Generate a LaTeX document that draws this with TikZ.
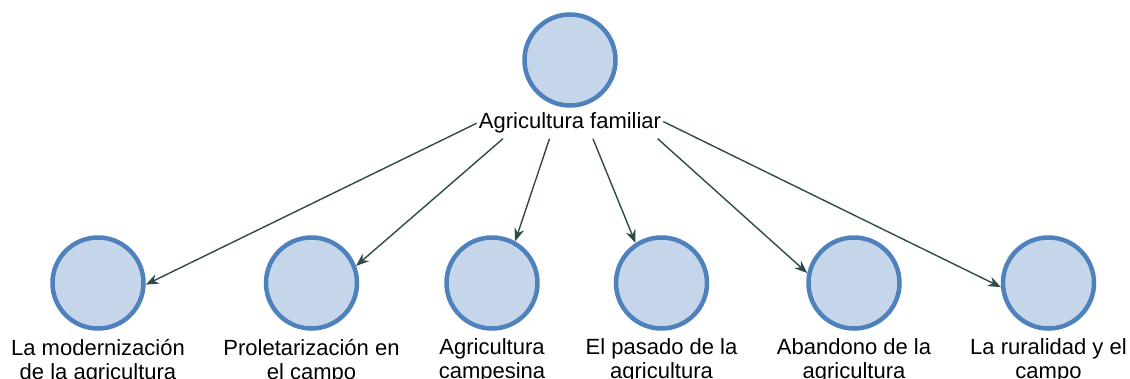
\documentclass[tikz,border=0pt]{standalone}
\usepackage{fontspec}
\setmainfont{Liberation Sans}
\usetikzlibrary{
  arrows.meta,
  positioning
}
\definecolor{agriblue}{HTML}{4F81BD}
\definecolor{agrifill}{HTML}{C6D6EA}
\definecolor{agriteal}{HTML}{2E4B47}

\begin{document}
\begin{tikzpicture}[
      x=1pt, y=-1pt,
      topic/.style={
        circle, minimum size=91pt, inner sep=0pt,
        draw=agriblue, line width=4.5pt, fill=agrifill
      },
      arrow/.style={-{Stealth[length=13pt, width=10pt]}, line width=1.4pt, agriteal},
      caption/.style={font=\fontsize{22}{24}\selectfont, align=center, inner sep=0pt},
      title/.style={font=\fontsize{22}{24}\selectfont, inner xsep=2pt, inner ysep=5pt}
    ]
      \useasboundingbox (0,0) rectangle (1130,378);

      % Central topic
      \node[topic] (root) at (570,60) {};
      \node[title, below=0pt of root] (rootlbl) {Agricultura familiar};

      % Subtopics
      \node[topic] (c1) at (98,283) {};
      \node[topic, right=118pt of c1] (c2) {};
      \node[topic, right=85pt of c2] (c3) {};
      \node[topic, right=74pt of c3] (c4) {};
      \node[topic, right=97pt of c4] (c5) {};
      \node[topic, right=99pt of c5] (c6) {};

      % Subtopic texts
      \node[caption, below=8pt of c1] {La modernización\\de la agricultura};
      \node[caption, below=8pt of c2] {Proletarización en\\el campo};
      \node[caption, below=8pt of c3] {Agricultura\\campesina};
      \node[caption, below=8pt of c4] {El pasado de la\\agricultura};
      \node[caption, below=8pt of c5] {Abandono de la\\agricultura};
      \node[caption, below=8pt of c6] {La ruralidad y el\\campo};

      % Links
      \draw[arrow] (rootlbl.180) -- (c1.-2);
      \draw[arrow] (rootlbl.193) -- (c2.21);
      \draw[arrow] (rootlbl.217) -- (c3.61);
      \draw[arrow] (rootlbl.326) -- (c4.123);
      \draw[arrow] (rootlbl.350) -- (c5.168);
      \draw[arrow] (rootlbl.1) -- (c6.185);
    \end{tikzpicture}
\end{document}
